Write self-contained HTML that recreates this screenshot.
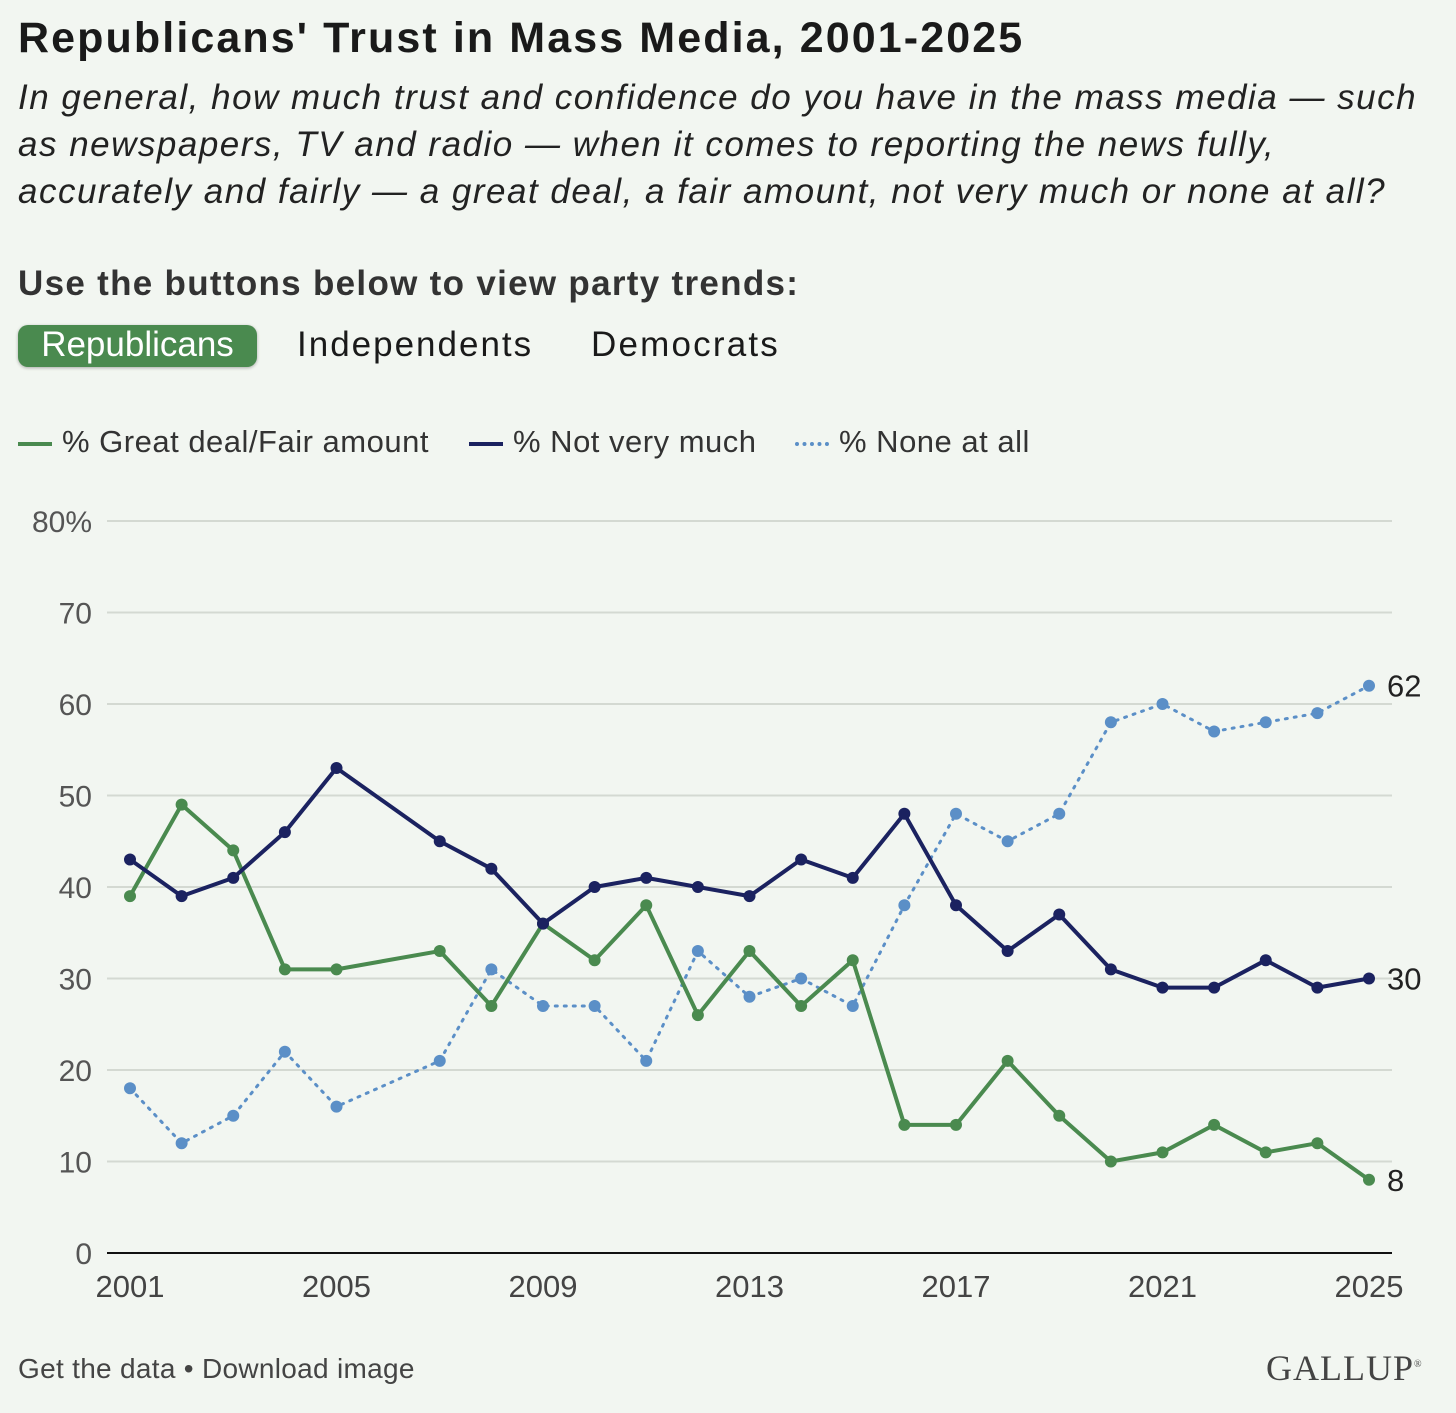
<!DOCTYPE html>
<html><head><meta charset="utf-8">
<style>
body{margin:0;background:#f2f6f1;font-family:"Liberation Sans",sans-serif;color:#1a1a1a;}
#wrap{position:relative;width:1456px;height:1413px;overflow:hidden;}
.t{position:absolute;white-space:nowrap;}
</style></head><body>
<div id="wrap">
<div class="t" style="left:18px;top:14px;font-size:43px;font-weight:bold;letter-spacing:2.1px;">Republicans' Trust in Mass Media, 2001-2025</div>
<div class="t" style="left:18px;top:74px;font-size:35px;font-style:italic;line-height:47px;color:#222;letter-spacing:1.5px;">In general, how much trust and confidence do you have in the mass media — such<br>as newspapers, TV and radio — when it comes to reporting the news fully,<br>accurately and fairly — a great deal, a fair amount, not very much or none at all?</div>
<div class="t" style="left:18px;top:264px;font-size:35px;font-weight:bold;color:#333;letter-spacing:1.3px;">Use the buttons below to view party trends:</div>
<div class="t" style="left:18px;top:325px;width:239px;height:42px;background:#4a8a4f;border-radius:10px;color:#fff;font-size:35px;line-height:40px;text-align:center;box-shadow:0 1px 3px rgba(0,0,0,.3);">Republicans</div>
<div class="t" style="left:297px;top:325px;font-size:35px;line-height:40px;letter-spacing:2px;">Independents</div>
<div class="t" style="left:591px;top:325px;font-size:35px;line-height:40px;letter-spacing:2.2px;">Democrats</div>
<div class="t" style="left:18px;top:424px;font-size:31px;color:#333;letter-spacing:0.5px;"><span style="display:inline-block;width:34px;height:4px;background:#4a8a4f;vertical-align:middle;margin-right:10px"></span>% Great deal/Fair amount</div>
<div class="t" style="left:469px;top:424px;font-size:31px;color:#333;letter-spacing:0.5px;"><span style="display:inline-block;width:34px;height:4px;background:#1b2260;vertical-align:middle;margin-right:10px"></span>% Not very much</div>
<div class="t" style="left:795px;top:424px;font-size:31px;color:#333;letter-spacing:0.5px;"><span style="display:inline-block;width:34px;border-top:4px dotted #5b8fc7;vertical-align:middle;margin-right:10px"></span>% None at all</div>
<svg id="chart" width="1456" height="1413" style="position:absolute;left:0;top:0"></svg>
<div class="t" style="left:18px;top:1353px;font-size:28px;color:#444;letter-spacing:0.3px;">Get the data • Download image</div>
<div class="t" style="left:1266px;top:1347px;font-size:36px;font-family:'Liberation Serif',serif;color:#444;letter-spacing:1px;">GALLUP<sup style="font-size:10px">®</sup></div>
</div>
<script>
const years=[2001,2002,2003,2004,2005,2007,2008,2009,2010,2011,2012,2013,2014,2015,2016,2017,2018,2019,2020,2021,2022,2023,2024,2025];
const greatDeal=[39,49,44,31,31,33,27,36,32,38,26,33,27,32,14,14,21,15,10,11,14,11,12,8];
const notVeryMuch=[43,39,41,46,53,45,42,36,40,41,40,39,43,41,48,38,33,37,31,29,29,32,29,30];
const noneAtAll=[18,12,15,22,16,21,31,27,27,21,33,28,30,27,38,48,45,48,58,60,57,58,59,62];
const yTicks=[0,10,20,30,40,50,60,70,80];
const xTicks=[2001,2005,2009,2013,2017,2021,2025];
const NS="http://www.w3.org/2000/svg";
const svg=document.getElementById('chart');
const X=y=>130+(y-2001)*(1369-130)/24;
const Y=v=>1253-v*(1253-521)/80;
function mk(t,a){const e=document.createElementNS(NS,t);for(const k in a)e.setAttribute(k,a[k]);svg.appendChild(e);return e;}
yTicks.forEach(v=>{
  const l=mk('line',{x1:107,x2:1392,y1:Y(v),y2:Y(v),stroke:v===0?'#111':'#d4d9d2','stroke-width':2});
  
  
  const t=mk('text',{x:92,y:Y(v)+11,'text-anchor':'end','font-size':30,fill:'#555','font-family':'Liberation Sans, sans-serif'});
  t.textContent=v===80?'80%':v;
  
  
});
xTicks.forEach(yr=>{
  const t=mk('text',{x:X(yr),y:1297,'text-anchor':'middle','font-size':31,fill:'#444','font-family':'Liberation Sans, sans-serif'});
  t.textContent=yr;
  
  
});
function series(vals,color,dash,name){
  const p=mk('polyline',{points:vals.map((v,i)=>X(years[i])+','+Y(v)).join(' '),fill:'none',stroke:color,'stroke-width':dash?3:4,'stroke-dasharray':dash?'2 7':'none','stroke-linecap':'round','stroke-linejoin':'round'});
  
  
  vals.forEach((v,i)=>{
    const c=mk('circle',{cx:X(years[i]),cy:Y(v),r:6,fill:color});
    
    
  });
  const last=vals[vals.length-1];
  const t=mk('text',{x:1387,y:Y(last)+11,'font-size':31,fill:'#222','font-family':'Liberation Sans, sans-serif'});
  t.textContent=last;
  
  
}
series(noneAtAll,'#5b8fc7',true,'none-at-all');
series(greatDeal,'#4a8a4f',false,'great-deal');
series(notVeryMuch,'#1b2260',false,'not-very-much');
</script>
</body></html>
